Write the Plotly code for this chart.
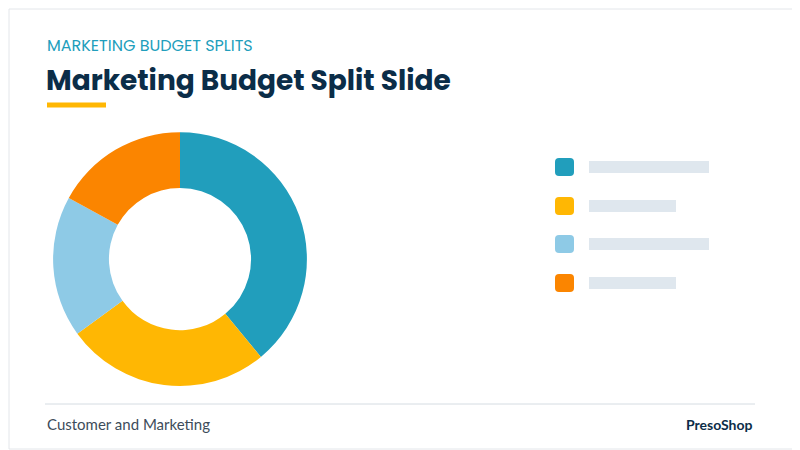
import plotly.graph_objects as go

labels = ["Segment A", "Segment B", "Segment C", "Segment D"]
values = [39, 26, 18, 17]
colors = ["#219EBC", "#FFB703", "#8ECAE6", "#FB8500"]
bar_lengths = [130, 97, 130, 97]

fig = go.Figure(go.Pie(
    labels=labels, values=values, hole=0.56, sort=False, direction="clockwise",
    rotation=0, marker=dict(colors=colors, line=dict(width=0)),
    textinfo="none", hoverinfo="label+percent", showlegend=False,
    domain=dict(x=[0.056, 0.374], y=[0.160, 0.724]),
))

W, H = 800, 450
def Y(py): return H - py
shapes = [
    dict(type="rect", xref="x", yref="y", x0=9, x1=799, y0=Y(9), y1=Y(449),
         line=dict(color="#E3E6EA", width=1), fillcolor="rgba(0,0,0,0)", layer="below"),
    dict(type="line", xref="x", yref="y", x0=45, x1=755, y0=Y(404), y1=Y(404),
         line=dict(color="#D5DCE2", width=1)),
    dict(type="line", xref="x", yref="y", x0=47, x1=106, y0=Y(105), y1=Y(105),
         line=dict(color="#FFB703", width=5)),
]
rows = [167, 206, 244, 283]
for c, yy, L in zip(colors, rows, bar_lengths):
    shapes.append(dict(type="path", xref="x", yref="y",
        path=f"M 559,{Y(yy-9)} L 570,{Y(yy-9)} Q 574,{Y(yy-9)} 574,{Y(yy-5)} L 574,{Y(yy+5)} Q 574,{Y(yy+9)} 570,{Y(yy+9)} L 559,{Y(yy+9)} Q 555,{Y(yy+9)} 555,{Y(yy+5)} L 555,{Y(yy-5)} Q 555,{Y(yy-9)} 559,{Y(yy-9)} Z",
        fillcolor=c, line=dict(width=0)))
    shapes.append(dict(type="line", xref="x", yref="y", x0=589, x1=584 + L - 5,
        y0=Y(yy), y1=Y(yy), line=dict(color="#DFE7EE", width=12)))

anns = [
    dict(x=45, y=Y(45), text="MARKETING BUDGET SPLITS", font=dict(size=16, color="#219EBC", family="Poppins, Lato, sans-serif")),
    dict(x=44, y=Y(80), text="<b>Marketing Budget Split Slide</b>", font=dict(size=28, color="#0B2D48", family="Poppins, Lato, sans-serif")),
    dict(x=45, y=Y(424), text="Customer and Marketing", font=dict(size=15, color="#3D4C5A", family="Lato, sans-serif")),
]
for a in anns:
    a.update(xref="x", yref="y", xanchor="left", yanchor="middle", showarrow=False)
anns.append(dict(x=755, y=Y(424), xref="x", yref="y", xanchor="right", yanchor="middle",
    showarrow=False, text="<b>PresoShop</b>", font=dict(size=14, color="#0B2D48", family="Lato, sans-serif")))

fig.update_layout(
    width=W, height=H, margin=dict(l=0, r=0, t=0, b=0),
    paper_bgcolor="white", plot_bgcolor="rgba(0,0,0,0)",
    xaxis=dict(range=[8, W + 8], visible=False, fixedrange=True),
    yaxis=dict(range=[-8, H - 8], visible=False, fixedrange=True),
    shapes=shapes, annotations=anns,
)
fig.write_html("out.html")
